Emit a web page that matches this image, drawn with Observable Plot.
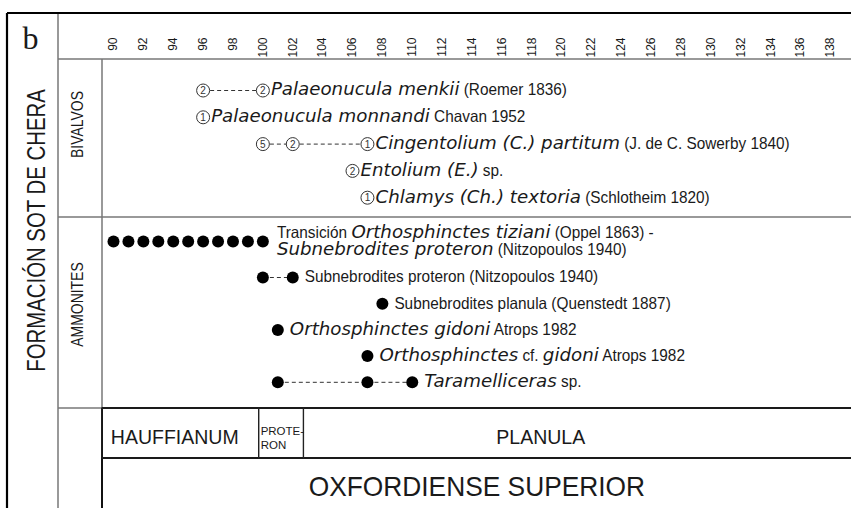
<!DOCTYPE html>
<html><head><meta charset="utf-8">
<script src="https://cdn.jsdelivr.net/npm/d3@7"></script>
<script src="https://cdn.jsdelivr.net/npm/@observablehq/plot@0.6"></script>
<style>
html,body{margin:0;padding:0;background:#fff;}
#chart{width:851px;height:508px;overflow:hidden;}
</style></head>
<body><div id="chart"></div>
<script>
// ---------------- data ----------------
const tickLabels = [90,92,94,96,98,100,102,104,106,108,110,112,114,116,118,120,122,124,126,128,130,132,134,136,138];

const bivalveLabels = [
  [[["Palaeonucula menkii",1],[" (Roemer 1836)",0]]],
  [[["Palaeonucula monnandi",1],[" Chavan 1952",0]]],
  [[["Cingentolium (C.) partitum",1],[" (J. de C. Sowerby 1840)",0]]],
  [[["Entolium (E.)",1],[" sp.",0]]],
  [[["Chlamys (Ch.) textoria",1],[" (Schlotheim 1820)",0]]]
];
const bivalveLevels = [[96,100],[96],[100,102,107],[106],[107]];
const bivalveCounts = [[2,2],[1],[5,2,1],[2],[1]];

const ammoniteLabels = [
  [[["Transición ",0],["Orthosphinctes tiziani",1],[" (Oppel 1863) -",0]],
   [["Subnebrodites proteron",1],[" (Nitzopoulos 1940)",0]]],
  [[["Subnebrodites proteron (Nitzopoulos 1940)",0]]],
  [[["Subnebrodites planula (Quenstedt 1887)",0]]],
  [[["Orthosphinctes gidoni",1],[" Atrops 1982",0]]],
  [[["Orthosphinctes",1],[" cf. ",0],["gidoni",1],[" Atrops 1982",0]]],
  [[["Taramelliceras",1],[" sp.",0]]]
];
const ammoniteLevels = [[90,91,92,93,94,95,96,97,98,99,100],[100,102],[108],[101],[107],[101,107,110]];
const ammoniteJoined = [false,true,true,true,true,true];

const zoneNames = ["HAUFFIANUM","PROTE-\nRON","PLANULA"];
const zoneStarts = [89.25, 99.75, 102.75];
const zoneEnds = [99.75, 102.75, 141];
const zoneLabelAt = [94.1, 99.75, 118.6];
const stageName = "OXFORDIENSE SUPERIOR";
const stageSpan = [89.25, 139.4];
const formationName = "FORMACIÓN SOT DE CHERA";
const groupNames = ["BIVALVOS","AMMONITES"];
const panelLetter = "b";

// ---------------- layout (code, not data) ----------------
const W = 851, H = 508;
const bivY = i => 90 + i * 26.8;
const ammY = i => i === 0 ? 241 : 277 + (i - 1) * 26.2;
const italicFont = "DejaVu Sans";
const regularFont = "Liberation Sans, Arial, sans-serif";
const ITALIC_SIZE = 17.2, ITALIC_STRETCH = 1.06;
const REGULAR_SIZE = 16.5, NARROW = 0.93;

const labelRows = [];
const circles = [];
const dots = [];
const dashes = [];
bivalveLabels.forEach((lines, i) => {
  const lv = bivalveLevels[i], y = bivY(i);
  lv.forEach((v, k) => circles.push({x: v, y, n: String(bivalveCounts[i][k])}));
  for (let k = 1; k < lv.length; k++) dashes.push({x1: lv[k-1], x2: lv[k], y});
  lines.forEach((segs, j) => labelRows.push({x: lv[lv.length-1], y: y + (j - (lines.length-1)/2) * 17.5, segs, dx: 8}));
});
ammoniteLabels.forEach((lines, i) => {
  const lv = ammoniteLevels[i], y = ammY(i);
  lv.forEach(v => dots.push({x: v, y}));
  if (ammoniteJoined[i]) for (let k = 1; k < lv.length; k++) dashes.push({x1: lv[k-1], x2: lv[k], y});
  lines.forEach((segs, j) => labelRows.push({x: lv[lv.length-1], y: y + (j - (lines.length-1)/2) * 17.5, segs, dx: lines.length > 1 ? 14 : 12}));
});
const zones = zoneNames.map((n, i) => ({name: n, x1: zoneStarts[i], x2: zoneEnds[i], at: zoneLabelAt[i]}));

const ink = "#1a1a1a";
const plot = Plot.plot({
  width: W, height: H,
  marginLeft: 0, marginRight: 0, marginTop: 0, marginBottom: 0,
  x: {domain: [90, 138], range: [113, 830], axis: null},
  y: {domain: [0, H], range: [0, H], axis: null},
  style: {background: "#fff", color: ink},
  marks: [
    Plot.text(tickLabels, {x: d => d, y: () => 37, text: d => String(d), rotate: -90, textAnchor: "end",
      fontSize: 12, fontFamily: regularFont, fill: ink}),
    Plot.link(dashes, {x1: "x1", x2: "x2", y1: "y", y2: "y", stroke: "#333", strokeWidth: 1, strokeDasharray: "4,3"}),
    Plot.dot(circles, {x: "x", y: "y", r: 6.5, fill: "#fff", stroke: "#333", strokeWidth: 1}),
    Plot.text(circles, {x: "x", y: "y", text: "n", fontSize: 10, fontFamily: regularFont, fill: "#333", dy: 0.5}),
    Plot.dot(dots, {x: "x", y: "y", r: 6, fill: "#000", stroke: "none"}),
    Plot.text(labelRows, {x: "x", y: "y", text: d => d.segs.map(s => s[0]).join(""), textAnchor: "start",
      fontSize: 15, fill: ink, ariaDescription: "taxa"}),
    Plot.rect(zones, {x1: "x1", x2: "x2", y1: () => 408, y2: () => 458, fill: "none", stroke: "#222", strokeWidth: 1.2}),
    Plot.text(zones.filter(z => !z.name.includes("\n")), {x: "at", y: () => 437, text: "name", fontSize: 19.5,
      fontFamily: regularFont, fill: ink}),
    Plot.text(zones.filter(z => z.name.includes("\n")), {x: "at", y: () => 437, text: "name", fontSize: 11.5, lineHeight: 1.25,
      textAnchor: "start", dx: 1.5, fontFamily: regularFont, fill: ink, ariaDescription: "proteron"}),
    Plot.text([stageName], {x: () => (stageSpan[0] + stageSpan[1]) / 2, y: () => 487, text: d => d, fontSize: 28,
      fontFamily: regularFont, fill: ink, ariaDescription: "stage"}),
    Plot.text([panelLetter], {frameAnchor: "left", dx: 30, y: () => 38, text: d => d, fontSize: 32,
      fontFamily: "Liberation Serif, Times New Roman, serif", fill: ink, textAnchor: "middle"}),
    Plot.text([formationName], {frameAnchor: "left", dx: 36, y: () => 230, text: d => d, rotate: -90, fontSize: 25,
      fontFamily: regularFont, fill: ink, textAnchor: "middle", ariaDescription: "formation"}),
    Plot.text(groupNames, {frameAnchor: "left", dx: 77, y: (d, i) => i === 0 ? 124 : 304, text: d => d, rotate: -90, fontSize: 17,
      fontFamily: regularFont, fill: ink, textAnchor: "middle", ariaDescription: "groups"})
  ]
});

// table frame (layout lines)
const svg = d3.select(plot);
const frame = svg.insert("g", ":first-child").attr("fill", "none");
const line = (d, c, w) => frame.append("path").attr("d", d).attr("stroke", c).attr("stroke-width", w);
line("M58,13V508", "#777", 1.5);
line("M58,59H851", "#777", 1.5);
line("M58,217H851", "#777", 1.5);
line("M102,59V408", "#777", 1.5);
line("M58,408H102", "#777", 1.5);
line("M102,408H851M102,458H851M102,408V508", "#111", 2);
line("M7,13H851M7,13V508", "#000", 2.2);

document.getElementById("chart").appendChild(plot);

// post-process: narrow regular text, mixed italic spans
const NS = "http://www.w3.org/2000/svg";
const grp = name => plot.querySelector(`g[aria-description="${name}"]`);
const squeeze = (el, f) => { const w = el.getComputedTextLength();
  el.setAttribute("textLength", (w * f).toFixed(1)); el.setAttribute("lengthAdjust", "spacingAndGlyphs"); };
const narrowAll = (name, f) => { const g = grp(name); if (g) g.querySelectorAll("text").forEach(t => squeeze(t, f)); };
narrowAll("formation", 0.815);
narrowAll("groups", 0.82);
narrowAll("stage", 0.94);

const tg = grp("taxa");
if (tg) tg.querySelectorAll("text").forEach((t, i) => {
  const row = labelRows[i];
  t.textContent = "";
  t.setAttribute("x", row.dx);
  t.setAttribute("style", "white-space:pre");
  row.segs.forEach(([s, it]) => {
    const ts = document.createElementNS(NS, "tspan");
    ts.textContent = s;
    if (it) { ts.setAttribute("font-family", italicFont); ts.setAttribute("font-style", "oblique"); ts.setAttribute("font-size", ITALIC_SIZE); }
    else { ts.setAttribute("font-family", regularFont); ts.setAttribute("font-size", REGULAR_SIZE); }
    t.appendChild(ts);
    squeeze(ts, it ? ITALIC_STRETCH : NARROW);
  });
});
</script>
</body></html>
